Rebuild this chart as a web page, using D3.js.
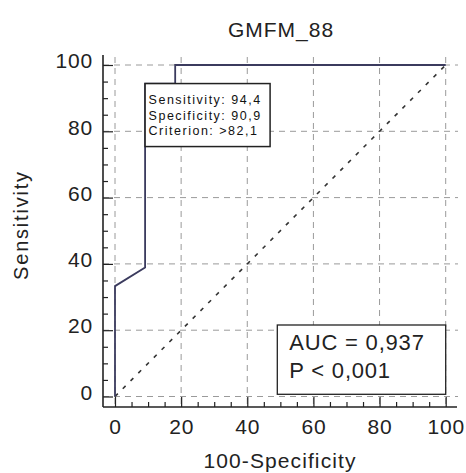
<!DOCTYPE html>
<html>
<head>
<meta charset="utf-8">
<script src="https://cdn.jsdelivr.net/npm/d3@7"></script>
<style>
  body { margin: 0; background: #fff; }
  svg text { font-family: "Liberation Sans", Arial, sans-serif; fill: #222; }
</style>
</head>
<body>
<svg id="chart" width="466" height="473"></svg>
<script>
// ROC curve points (100-Specificity, Sensitivity)
const fprValues   = [0, 0, 9.1, 9.1, 18.2, 18.2, 100];
const tprValues   = [0, 33.3, 38.9, 94.4, 94.4, 100, 100];
const majorTicks  = [0, 20, 40, 60, 80, 100];
const minorTicks  = [5, 10, 15, 25, 30, 35, 45, 50, 55, 65, 70, 75, 85, 90, 95];
const optimum     = {fpr: 9.1, tpr: 94.4};
const criterionLines = ["Sensitivity: 94,4", "Specificity: 90,9", "Criterion: >82,1"];
const statLines   = ["AUC = 0,937", "P < 0,001"];
const title       = "GMFM_88";
const xTitle      = "100-Specificity";
const yTitle      = "Sensitivity";

let svg    = d3.select("#chart"),
  x        = d3.scaleLinear().domain([0, 100]).range([115, 445.7]),
  y        = d3.scaleLinear().domain([0, 100]).range([396.5, 65]),
  axisX    = 103,
  axisY    = 407;

// grid
let grid = svg.append("g")
  .attr("stroke", "#9a9a9a")
  .attr("stroke-width", 1)
  .attr("stroke-dasharray", "6,5");

grid.selectAll("line.v").data(majorTicks).enter().append("line")
  .attr("x1", d => x(d)).attr("x2", d => x(d))
  .attr("y1", 57).attr("y2", axisY);

grid.selectAll("line.h").data(majorTicks).enter().append("line")
  .attr("x1", axisX).attr("x2", 458)
  .attr("y1", d => y(d)).attr("y2", d => y(d));

// diagonal reference line
svg.append("line")
  .attr("x1", x(0)).attr("y1", y(0))
  .attr("x2", x(100)).attr("y2", y(100))
  .attr("stroke", "#333")
  .attr("stroke-width", 1.6)
  .attr("stroke-dasharray", "4,7");

// ROC curve
let roc = d3.line()
  .x((d, i) => x(fprValues[i]))
  .y((d, i) => y(tprValues[i]));

svg.append("path")
  .datum(fprValues)
  .attr("d", roc)
  .attr("fill", "none")
  .attr("stroke", "#3b3b5e")
  .attr("stroke-width", 1.8);

// criterion box at the optimal point
let cbox = svg.append("g")
  .attr("transform", "translate(" + x(optimum.fpr) + "," + y(optimum.tpr) + ")");

cbox.append("rect")
  .attr("width", 125).attr("height", 63)
  .attr("fill", "#fff")
  .attr("stroke", "#222")
  .attr("stroke-width", 1.5);

cbox.selectAll("text").data(criterionLines).enter().append("text")
  .attr("x", 3.5)
  .attr("y", (d, i) => 20.5 + i * 15.5)
  .attr("font-size", 12.5)
  .attr("letter-spacing", 1.5)
  .style("fill", "#111")
  .text(d => d);

// AUC box
let abox = svg.append("g").attr("transform", "translate(277.3,325)");

abox.append("rect")
  .attr("width", 168.4).attr("height", 69.3)
  .attr("fill", "#fff")
  .attr("stroke", "#222")
  .attr("stroke-width", 1.3);

abox.selectAll("text").data(statLines).enter().append("text")
  .attr("x", 12)
  .attr("y", (d, i) => 25 + i * 28.3)
  .attr("font-size", 22)
  .attr("letter-spacing", 0.8)
  .text(d => d);

// axes
function styleAxis(g) {
  g.select(".domain").remove();
  g.selectAll(".tick line").attr("stroke", "#222").attr("stroke-width", 1.2);
  g.selectAll(".tick text")
    .attr("font-size", 21)
    .attr("letter-spacing", 0.8)
    .attr("fill", "#222");
}

svg.append("g")
  .attr("transform", "translate(" + axisX + ",0)")
  .call(d3.axisLeft(y).tickValues(minorTicks).tickSize(-5).tickFormat(""))
  .call(styleAxis);

svg.append("g")
  .attr("transform", "translate(" + axisX + ",0)")
  .call(d3.axisLeft(y).tickValues(majorTicks).tickSize(-10).tickPadding(10))
  .call(styleAxis)
  .selectAll(".tick text").attr("dy", "0.13em");

svg.append("g")
  .attr("transform", "translate(0," + axisY + ")")
  .call(d3.axisBottom(x).tickValues(minorTicks).tickSize(-5).tickFormat(""))
  .call(styleAxis);

svg.append("g")
  .attr("transform", "translate(0," + axisY + ")")
  .call(d3.axisBottom(x).tickValues(majorTicks).tickSize(-10).tickPadding(12.5))
  .call(styleAxis);

svg.append("line")
  .attr("x1", axisX).attr("x2", axisX)
  .attr("y1", 55).attr("y2", axisY)
  .attr("stroke", "#222").attr("stroke-width", 1.6);

svg.append("line")
  .attr("x1", axisX).attr("x2", 457)
  .attr("y1", axisY).attr("y2", axisY)
  .attr("stroke", "#222").attr("stroke-width", 1.6);

// titles
svg.append("text")
  .attr("x", 281).attr("y", 36.7)
  .attr("text-anchor", "middle")
  .attr("font-size", 21)
  .attr("letter-spacing", 1)
  .text(title);

svg.append("text")
  .attr("x", 280).attr("y", 467.5)
  .attr("text-anchor", "middle")
  .attr("font-size", 21)
  .attr("letter-spacing", 1.1)
  .text(xTitle);

svg.append("text")
  .attr("transform", "translate(28,225) rotate(-90)")
  .attr("text-anchor", "middle")
  .attr("font-size", 20)
  .attr("letter-spacing", 1.8)
  .text(yTitle);
</script>
</body>
</html>
